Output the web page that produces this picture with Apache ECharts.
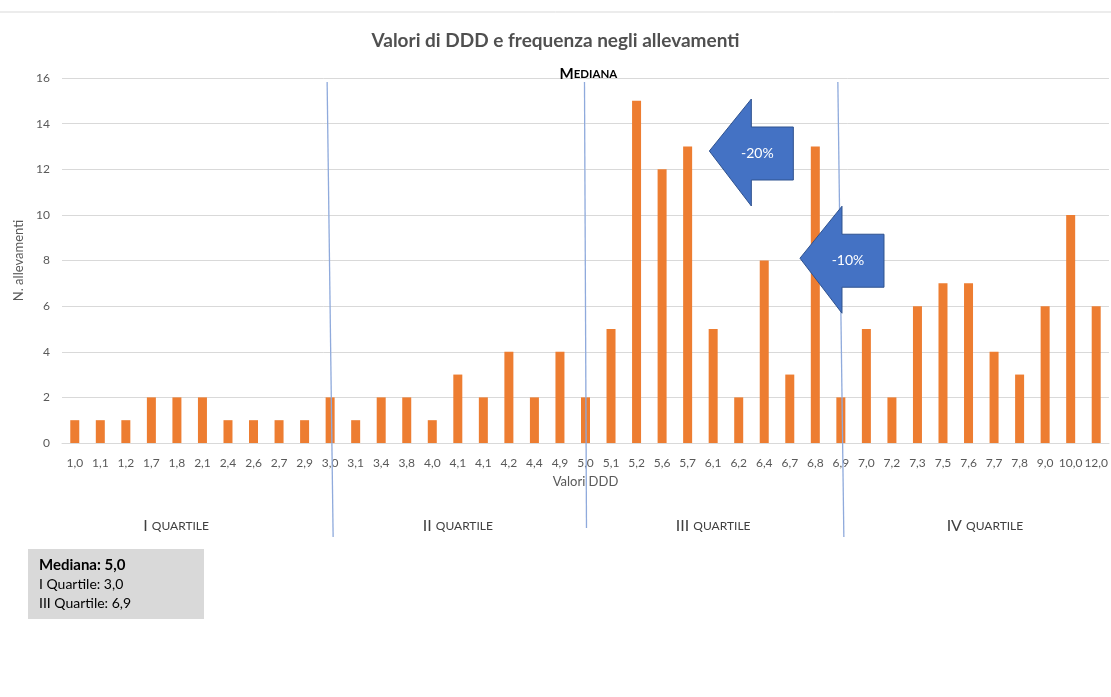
<!DOCTYPE html>
<html><head><meta charset="utf-8">
<script src="https://cdn.jsdelivr.net/npm/echarts@6/dist/echarts.min.js"></script>
<style>html,body{margin:0;padding:0;background:#fff}#c{width:1111px;height:697px}</style>
</head><body><div id="c"></div>
<script>
const categories = ['1,0','1,1','1,2','1,7','1,8','2,1','2,4','2,6','2,7','2,9','3,0','3,1','3,4','3,8','4,0','4,1','4,1','4,2','4,4','4,9','5,0','5,1','5,2','5,6','5,7','6,1','6,2','6,4','6,7','6,8','6,9','7,0','7,2','7,3','7,5','7,6','7,7','7,8','9,0','10,0','12,0'];
const counts = [1,1,1,2,2,2,1,1,1,1,2,1,2,2,1,3,2,4,2,4,2,5,15,12,13,5,2,8,3,13,2,5,2,6,7,7,4,3,6,10,6];
const quartileIdx = [10, 20, 30];
const quartileNames = [['I','QUARTILE'],['II','QUARTILE'],['III','QUARTILE'],['IV','QUARTILE']];
const summary = ['Mediana: 5,0','I Quartile: 3,0','III Quartile: 6,9'];
const arrows = [{label:'-20%', y:12.8, cat:24.85}, {label:'-10%', y:8.1, cat:28.4}];

const FONT = 'Lato, "Open Sans", sans-serif';
const GREY = '#595959';
const chart = echarts.init(document.getElementById('c'), null, {renderer:'canvas'});
chart.setOption({
  animation:false,
  backgroundColor:'#fff',
  textStyle:{fontFamily:FONT},
  title:{text:'Valori di DDD e frequenza negli allevamenti', left:'center', top:26,
    textStyle:{fontFamily:FONT, fontSize:19, fontWeight:'bold', color:'#505050'}},
  grid:{left:62, right:1, top:78, bottom:254},
  xAxis:{type:'category', data:categories,
    name:'Valori DDD', nameLocation:'middle', nameGap:32,
    nameTextStyle:{color:GREY, fontSize:13, fontFamily:FONT},
    axisLine:{lineStyle:{color:'#d9d9d9'}}, axisTick:{show:false},
    axisLabel:{interval:0, color:GREY, fontSize:12, margin:14, fontFamily:FONT}},
  yAxis:{type:'value', min:0, max:16, interval:2,
    name:'N. allevamenti', nameLocation:'middle', nameGap:35,
    nameTextStyle:{color:GREY, fontSize:13, fontFamily:FONT},
    axisLine:{show:false}, axisTick:{show:false},
    axisLabel:{color:GREY, fontSize:12, margin:12, fontFamily:FONT},
    splitLine:{lineStyle:{color:'#d9d9d9'}}},
  series:[{type:'bar', data:counts, barWidth:9, itemStyle:{color:'#ED7D31'}}]
});

const x0 = chart.convertToPixel({xAxisIndex:0}, 0);
const step = chart.convertToPixel({xAxisIndex:0}, 1) - x0;
function cx(cat){ return x0 + cat*step; }
function cy(v){ return chart.convertToPixel({yAxisIndex:0}, v); }
const g = [];
g.push({type:'line', shape:{x1:0,y1:12,x2:1111,y2:12}, style:{stroke:'#d9d9d9', lineWidth:1}});
const slant = [3, 1, 3];
quartileIdx.forEach((ci,i)=>{
  const x = cx(ci);
  const yTop = cy(16) + 4;
  g.push({type:'line', shape:{x1:x-slant[i], y1:yTop, x2:x+slant[i], y2:537 - (i===1?9:0)},
    style:{stroke:'#8faadc', lineWidth:1.3}, z:10});
});
g.push({type:'text', x:cx(quartileIdx[1])-26, y:cy(16)-11, z:11, style:{rich:{a:{fontSize:15,fontWeight:'bold',fill:'#000',fontFamily:FONT},b:{fontSize:11.5,fontWeight:'bold',fill:'#000',fontFamily:FONT}}, text:'{a|M}{b|EDIANA}'}});
const bounds = [-0.5, ...quartileIdx, categories.length-0.5];
const qShift = [-20, 0, 0, 10];
quartileNames.forEach((q,i)=>{
  const x = (cx(bounds[i]) + cx(bounds[i+1]))/2 + qShift[i];
  g.push({type:'text', x:x, y:526, style:{text:'{a|'+q[0]+' }{b|'+q[1]+'}', align:'center', verticalAlign:'middle',
    rich:{a:{fontSize:16, fill:'#404040', fontFamily:FONT}, b:{fontSize:12, fill:'#404040', fontFamily:FONT}}}});
});
arrows.forEach(a=>{
  const tx = cx(a.cat), ty = cy(a.y);
  const pts = [[tx,ty],[tx+42,ty-52],[tx+42,ty-24],[tx+84,ty-24],[tx+84,ty+29],[tx+42,ty+29],[tx+42,ty+55]];
  g.push({type:'polygon', z:20, shape:{points:pts}, style:{fill:'#4472C4', stroke:'#2f528f', lineWidth:1}});
  g.push({type:'text', z:21, x:tx+48, y:ty+2, style:{text:a.label, fill:'#fff', fontSize:14, align:'center', verticalAlign:'middle', fontFamily:FONT}});
});
g.push({type:'rect', shape:{x:28,y:549,width:176,height:70}, style:{fill:'#d9d9d9'}});
g.push({type:'text', x:39, y:555, style:{text:'{a|'+summary[0]+'}\n{b|'+summary[1]+'}\n{b|'+summary[2]+'}',
  rich:{a:{fontSize:15, fontWeight:'bold', fill:'#000', lineHeight:19.5, fontFamily:FONT}, b:{fontSize:14, fill:'#000', lineHeight:19.5, fontFamily:FONT}}}});
chart.setOption({graphic:g});
</script></body></html>
